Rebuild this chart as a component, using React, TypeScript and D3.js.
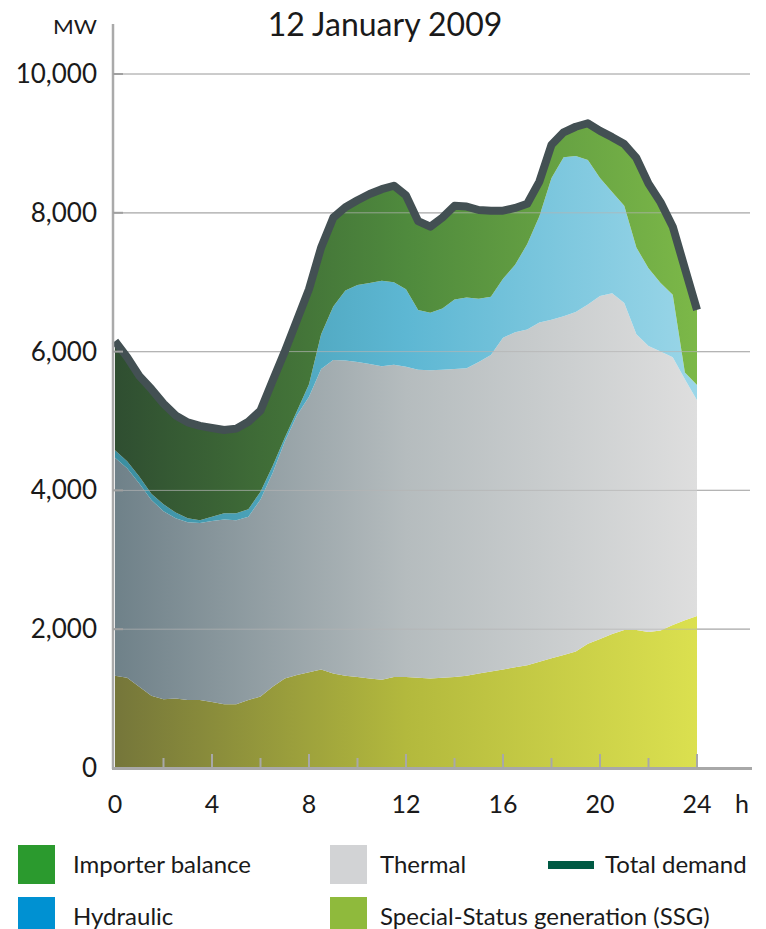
import React from "react";
import * as d3 from "d3";

// Half-hourly readings, hour 0 .. 24 (MW)
const hours = [0,0.5,1,1.5,2,2.5,3,3.5,4,4.5,5,5.5,6,6.5,7,7.5,8,8.5,9,9.5,10,10.5,11,11.5,12,12.5,13,13.5,14,14.5,15,15.5,16,16.5,17,17.5,18,18.5,19,19.5,20,20.5,21,21.5,22,22.5,23,23.5,24];

const ssg = [1330,1300,1170,1040,990,1000,980,980,950,920,920,980,1030,1170,1290,1340,1380,1420,1360,1330,1310,1290,1270,1310,1310,1300,1290,1300,1310,1330,1360,1390,1420,1450,1480,1530,1580,1630,1680,1790,1860,1930,1990,1990,1960,1980,2060,2130,2190];

const thermal = [3140,3020,2930,2820,2710,2600,2560,2550,2610,2660,2650,2640,2840,3080,3410,3740,3970,4330,4520,4540,4540,4530,4520,4500,4470,4440,4440,4440,4440,4430,4490,4560,4780,4830,4840,4890,4880,4880,4890,4890,4940,4910,4710,4260,4120,4020,3860,3470,3110];

const hydro = [110,100,100,90,100,80,60,40,60,90,100,110,110,100,60,60,180,500,770,1010,1110,1170,1230,1190,1120,860,830,880,1000,1020,910,840,850,970,1230,1530,2040,2290,2250,2080,1700,1460,1400,1250,1120,990,900,100,220];

const importer = [1570,1500,1450,1510,1450,1400,1380,1360,1280,1200,1220,1260,1170,1230,1240,1310,1370,1250,1280,1200,1220,1280,1320,1390,1350,1280,1240,1310,1350,1310,1280,1240,980,820,580,500,480,360,420,530,680,790,890,1290,1220,1160,980,1500,1080];

const totalDemand = [6150,5920,5650,5460,5250,5080,4980,4930,4900,4870,4890,4990,5150,5580,6000,6450,6900,7500,7930,8080,8180,8270,8340,8390,8250,7880,7800,7930,8100,8090,8040,8030,8030,8070,8130,8450,8980,9160,9240,9290,9180,9090,8990,8790,8420,8150,7800,7200,6600];

const yTicks = [0,2000,4000,6000,8000,10000];
const xTicks = [0,4,8,12,16,20,24];
const xMinorTicks = [2,6,10,14,18,22];

const seriesKeys = ["ssg","thermal","hydro","importer"];

const gradients = [
  { id: "g-ssg", stops: ["#75763a", "#b3b93d", "#dbe04f"] },
  { id: "g-thermal", stops: ["#6f8189", "#b5bcbe", "#dedede"] },
  { id: "g-hydro", stops: ["#3a8ea0", "#5db7d3", "#9ad6e8"] },
  { id: "g-importer", stops: ["#2f4e31", "#4f8a3d", "#7cb848"] },
];

const legendItems = [
  { label: "Importer balance", color: "#2b9a2e", x: 18, y: 845, tx: 73 },
  { label: "Hydraulic", color: "#0091d2", x: 18, y: 897, tx: 73 },
  { label: "Thermal", color: "#d2d3d5", x: 330, y: 845, tx: 380 },
  { label: "Special-Status generation (SSG)", color: "#8fba3c", x: 330, y: 897, tx: 380 },
];

export default function App() {
  const x = d3.scaleLinear().domain([0, 24]).range([115, 697]);
  const y = d3.scaleLinear().domain([0, 10000]).range([768, 74]);

  const rows = hours.map((h, i) => ({
    h,
    ssg: ssg[i],
    thermal: thermal[i],
    hydro: hydro[i],
    importer: importer[i],
  }));
  const stack = d3.stack<any>().keys(seriesKeys);
  const layers = stack(rows);

  const area = d3
    .area<any>()
    .x((d) => x(d.data.h))
    .y0((d) => y(d[0]))
    .y1((d) => y(d[1]))
    .curve(d3.curveLinear);

  const line = d3
    .line<number>()
    .x((_, i) => x(hours[i]))
    .y((d) => y(d))
    .curve(d3.curveLinear);

  const font = "Lato, 'Open Sans', sans-serif";

  return (
    <svg
      width={766}
      height={929}
      style={{ position: "absolute", left: 0, top: 0, background: "#fff" }}
    >
      <defs>
        {gradients.map((g) => (
          <linearGradient key={g.id} id={g.id} gradientUnits="userSpaceOnUse" x1={x(0)} x2={x(24)} y1={0} y2={0}>
            <stop offset="0%" stopColor={g.stops[0]} />
            <stop offset="50%" stopColor={g.stops[1]} />
            <stop offset="100%" stopColor={g.stops[2]} />
          </linearGradient>
        ))}
      </defs>

      {/* title */}
      <text x={385} y={36} textAnchor="middle" fontFamily={font} fontSize={32} fill="#1a1a1a">
        12 January 2009
      </text>
      <text x={97} y={34} textAnchor="end" fontFamily={font} fontSize={20} fill="#1a1a1a" textLength={44} lengthAdjust="spacingAndGlyphs">
        MW
      </text>

      {/* grid */}
      {yTicks.filter((t) => t > 0).map((t) => (
        <line key={t} x1={113} x2={750} y1={y(t)} y2={y(t)} stroke="#b4b4b4" strokeWidth={1.2} />
      ))}

      {/* stacked areas */}
      {layers.map((layer, i) => (
        <path key={seriesKeys[i]} d={area(layer) || ""} fill={`url(#${gradients[i].id})`} />
      ))}

      {/* grid lines visible over areas */}
      {yTicks.filter((t) => t > 0).map((t) => (
        <line key={"o" + t} x1={113} x2={750} y1={y(t)} y2={y(t)} stroke="#b4b4b4" strokeWidth={1} opacity={0.7} />
      ))}

      {/* total demand */}
      <path d={line(totalDemand) || ""} fill="none" stroke="#435053" strokeWidth={8} strokeLinejoin="round" />

      {/* axes */}
      <line x1={113} x2={113} y1={24} y2={769} stroke="#aaaaaa" strokeWidth={2.5} />
      <line x1={112} x2={752} y1={768.5} y2={768.5} stroke="#a8a8a8" strokeWidth={3} />
      {yTicks.filter((t) => t > 0).map((t) => (
        <line key={"yt" + t} x1={113} x2={123} y1={y(t)} y2={y(t)} stroke="#a0a0a0" strokeWidth={2} />
      ))}
      {xTicks.filter((t) => t > 0).map((t) => (
        <line key={"xt" + t} x1={x(t)} x2={x(t)} y1={768} y2={754} stroke="#a8a8a8" strokeWidth={2} />
      ))}
      {xMinorTicks.map((t) => (
        <line key={"xm" + t} x1={x(t)} x2={x(t)} y1={768} y2={758} stroke="#a8a8a8" strokeWidth={2} />
      ))}

      {/* y labels */}
      {yTicks.map((t) => (
        <text key={"yl" + t} x={97} y={y(t) + 9} textAnchor="end" fontFamily={font} fontSize={26} fill="#1a1a1a">
          {d3.format(",")(t)}
        </text>
      ))}
      {/* x labels */}
      {xTicks.map((t) => (
        <text key={"xl" + t} x={x(t)} y={813} textAnchor="middle" fontFamily={font} fontSize={25} fill="#1a1a1a">
          {t}
        </text>
      ))}
      <text x={742} y={813} textAnchor="middle" fontFamily={font} fontSize={25} fill="#1a1a1a">
        h
      </text>

      {/* legend */}
      {legendItems.map((l) => (
        <g key={l.label}>
          <rect x={l.x} y={l.y} width={37} height={39} fill={l.color} />
          <text x={l.tx} y={l.y + 28} fontFamily={font} fontSize={24} fill="#1a1a1a">
            {l.label}
          </text>
        </g>
      ))}
      <rect x={548} y={861} width={46} height={8} fill="#005a44" />
      <text x={605} y={873} fontFamily={font} fontSize={24} fill="#1a1a1a">
        Total demand
      </text>
    </svg>
  );
}
